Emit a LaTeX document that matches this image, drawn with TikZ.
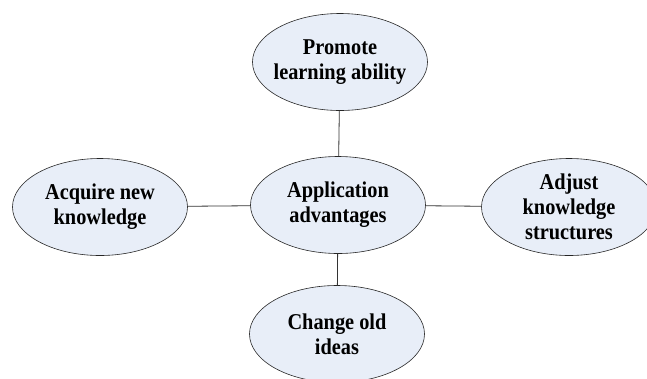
\documentclass[tikz,border=0pt]{standalone}
\usepackage{fontspec}
\setmainfont{Liberation Serif}
\newfontfamily\bubblefont[FakeStretch=0.9]{Liberation Serif}
\usepackage{tikz}
\usetikzlibrary{shapes.geometric}
\definecolor{bubblefill}{RGB}{232,238,248}

\begin{document}
\begin{tikzpicture}[x=1pt, y=-1pt,
	bubble/.style={ellipse, draw=black!85, fill=bubblefill, line width=0.6pt, inner sep=0pt, outer sep=0pt,
		minimum width=175pt, minimum height=97pt, align=center,
		font=\bubblefont\fontsize{22.6}{25}\selectfont\bfseries},
	link/.style={draw=black!80, line width=0.8pt}]
	\def\CX{338}
	\def\CY{205}

	\useasboundingbox (0,0) rectangle (647,378);

	\node[bubble]	(center)	at (\CX,\CY)	{Application\\advantages};
	\node[bubble, inner xsep=-5pt]	(promote)	at (340,62)	{Promote\\learning ability};
	\node[bubble]	(acquire)	at (100,207)	{Acquire new\\knowledge};
	\node[bubble, inner ysep=-6pt]	(adjust)	at (569,207)	{Adjust\\knowledge\\structures};
	\node[bubble]	(change)	at (337,334)	{Change old\\ideas};

	\draw[link]	(promote) -- (center);
	\draw[link]	(center) -- (change);
	\draw[link]	(acquire) -- (center);
	\draw[link]	(center) -- (adjust);
\end{tikzpicture}
\end{document}
